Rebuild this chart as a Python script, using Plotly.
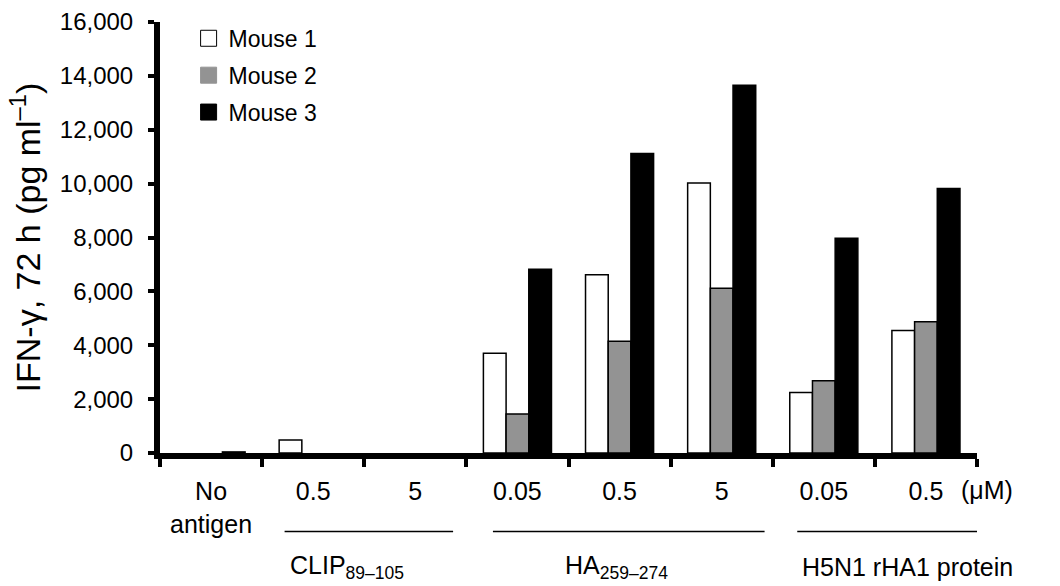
import plotly.graph_objects as go

# ---- data ----
conditions = ["No<br>antigen", "0.5", "5", "0.05", "0.5", "5", "0.05", "0.5"]
mouse1 = [0, 480, 0, 3700, 6620, 10020, 2250, 4550]
mouse2 = [0, 0, 0, 1450, 4150, 6120, 2680, 4870]
mouse3 = [40, 0, 0, 6820, 11120, 13650, 7970, 9820]
series_names = ["Mouse 1", "Mouse 2", "Mouse 3"]
series_colors = ["#ffffff", "#939393", "#000000"]
y_ticks = [0, 2000, 4000, 6000, 8000, 10000, 12000, 14000, 16000]
group_labels = ["CLIP<sub>89–105</sub>", "HA<sub>259–274</sub>", "H5N1 rHA1 protein"]

FONT = "Liberation Sans, Arial, Helvetica, sans-serif"

x_idx = list(range(len(conditions)))
fig = go.Figure()
for i, (name, vals, col) in enumerate(zip(series_names, [mouse1, mouse2, mouse3], series_colors)):
    fig.add_trace(go.Bar(
        x=x_idx, y=vals, name=name, showlegend=False,
        marker=dict(color=col, line=dict(color="black",
                                         width=[1.5 if v > 0 else 0 for v in vals])),
    ))
# legend entries (square swatches)
for i, (name, col) in enumerate(zip(series_names, series_colors)):
    fig.add_trace(go.Scatter(
        x=[None], y=[None], mode="markers", name=name, legendgroup=f"g{i}",
        marker=dict(symbol="square", size=16, color=col,
                    line=dict(color="black" if i == 0 else col, width=1)),
    ))

# plot-area geometry helpers (paper coords)
def ypaper(px):
    return (452.6 - px) / 430.6

# group bracket lines and labels
line_spans = [(0.72, 2.37), (2.76, 5.42), (5.74, 7.54)]
label_left = [0.754, 3.447, 5.77]
shapes = []
annotations = []
for (x0, x1), lx, lab in zip(line_spans, label_left, group_labels):
    shapes.append(dict(type="line", xref="x", yref="paper", x0=x0, x1=x1,
                       y0=ypaper(531), y1=ypaper(531),
                       line=dict(color="black", width=1.5)))
    annotations.append(dict(x=lx, y=ypaper(566), xref="x", yref="paper",
                            text=lab, showarrow=False, xanchor="left", yanchor="middle",
                            font=dict(size=25, color="black", family=FONT)))
annotations.append(dict(x=(987 - 160) / 817, y=ypaper(490), xref="paper", yref="paper",
                        text="(μM)", showarrow=False, xanchor="center", yanchor="middle",
                        font=dict(size=25, color="black", family=FONT)))

fig.update_layout(
    width=1060, height=586,
    margin=dict(l=160, r=83, t=22, b=133.4, autoexpand=False),
    paper_bgcolor="white", plot_bgcolor="white",
    barmode="group", bargap=1/3, bargroupgap=0,
    font=dict(family=FONT, color="black"),
    showlegend=True,
    legend=dict(x=0.035, y=1.012, xanchor="left", yanchor="top",
                font=dict(size=23, color="black", family=FONT),
                bgcolor="rgba(0,0,0,0)", tracegroupgap=4, itemsizing="trace"),
    shapes=shapes,
    annotations=annotations,
)
fig.update_xaxes(
    range=[-0.5, 7.5], showgrid=False, zeroline=False,
    showline=True, linecolor="black", linewidth=6,
    tickmode="array", tickvals=x_idx, ticktext=conditions,
    ticks="", ticklabelstandoff=11,
    tickfont=dict(size=25, color="black", family=FONT),
    minor=dict(tickmode="array", tickvals=[i - 0.5 for i in range(len(conditions) + 1)],
               ticks="outside", ticklen=8, tickwidth=4, tickcolor="black", showgrid=False),
)
fig.update_yaxes(
    range=[0, 16000], showgrid=False, zeroline=False,
    showline=True, linecolor="black", linewidth=6,
    tickmode="array", tickvals=y_ticks, tickformat=",",
    ticks="outside", ticklen=6, tickwidth=4, tickcolor="black",
    ticklabelstandoff=10,
    tickfont=dict(size=24, color="black", family=FONT),
    title=dict(text="IFN-γ, 72 h (pg ml<sup>–1</sup>)", standoff=11,
               font=dict(size=34, color="black", family=FONT)),
)

fig.write_html("out.html")
